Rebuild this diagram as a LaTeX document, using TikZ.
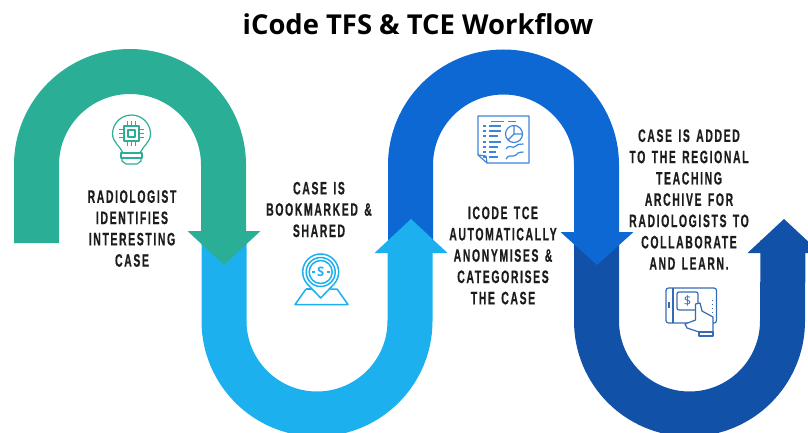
\documentclass[tikz,border=0pt]{standalone}
\usepackage{fontspec}
\setmainfont{Open Sans}
\newfontfamily\stepfont[FakeStretch=0.58,LetterSpace=9,FakeBold=0.5,WordSpace=1.4]{Liberation Sans Bold}
\definecolor{ribgreen}{HTML}{2BAE96}
\definecolor{riblight}{HTML}{1CB0EE}
\definecolor{ribblue}{HTML}{0D68D3}
\definecolor{ribdark}{HTML}{1151A8}
\definecolor{steptext}{HTML}{1C1C1C}
\tikzset{
	ribbon/.style={line width=45pt},
	stepnote/.style={align=center, text=steptext, inner sep=0pt, font=\stepfont\fontsize{18}{21.3}\selectfont},
	icon/.style={line width=1.2pt, line join=round}
}
\begin{document}
\begin{tikzpicture}[x=1pt, y=-1pt]
	\clip (0,0) rectangle (808,432);

	\node[font=\bfseries\fontsize{27.4}{30}\selectfont, inner sep=0pt] (title) at (418,24) {iCode TFS \& TCE Workflow};

	% ribbons, last one first so each head lies on the next ribbon
	\draw[ribbon, ribdark] (596.5,240) -- (596.5,321) arc[start angle=180, end angle=0, radius=93] -- (783,240);
	\draw[ribbon, ribblue] (410.5,240) -- (410.5,165) arc[start angle=180, end angle=360, radius=93] -- (596.5,232);
	\draw[ribbon, riblight] (224,232) -- (224,321) arc[start angle=180, end angle=0, radius=93] -- (410,253);
	\draw[ribbon, ribgreen] (36.5,243) -- (36.5,165) arc[start angle=180, end angle=360, radius=93.5] -- (223.5,231);

	\foreach \x/\w/\t/\c in {224/231/265/ribgreen, 411/253/219/riblight, 597/232/265/ribblue, 784/253/219/ribdark}
		\fill[\c] (\x-36.5,\w) -- (\x+36.5,\w) -- (\x,\t) -- cycle;

	\node[stepnote] (identify) at (132,228.5) {RADIOLOGIST\\IDENTIFIES\\INTERESTING\\CASE};
	\node[stepnote] (share) at (319,209.5) {CASE IS\\BOOKMARKED \&\\SHARED};
	\node[stepnote] (anonymise) at (503,255.5) {ICODE TCE\\AUTOMATICALLY\\ANONYMISES \&\\CATEGORISES\\THE CASE};
	\node[stepnote] (archive) at (689,199.5) {CASE IS ADDED\\TO THE REGIONAL\\TEACHING\\ARCHIVE FOR\\RADIOLOGISTS TO\\COLLABORATE\\AND LEARN.};

	% bulb
	\begin{scope}[icon, draw=ribgreen]
		\draw (123,153) .. controls (120,146) and (112.5,142) .. (112.5,134) arc[start angle=180, end angle=360, radius=19] .. controls (150.5,142) and (143,146) .. (140,153) -- cycle;
		\draw (121,153) rectangle (142,158);
		\draw (122,158) -- (122,161) -- (126,164) -- (137,164) -- (141,161) -- (141,158);
		\draw (124,126) rectangle (139,141);
		\draw (128,130) rectangle (135,137);
		\foreach \i in {-4,0,4} {
			\draw (131.5+\i,126) -- (131.5+\i,121);
			\draw (131.5+\i,141) -- (131.5+\i,146);
			\draw (124,133.5+\i) -- (119,133.5+\i);
			\draw (139,133.5+\i) -- (144,133.5+\i);
		}
	\end{scope}

	% pin on a map
	\begin{scope}[icon, draw=riblight, line width=1.5pt]
		\draw (306,289) -- (295,304.5) -- (348,304.5) -- (337,289) -- (330,289);
		\draw (306,289) -- (312,289);
		\draw[fill=white] (320.7,298) -- (307.3,284) arc[start angle=138, end angle=402, radius=18] -- cycle;
		\draw (320.7,272) circle[radius=11.5];
		\draw (320.7,272) circle[radius=14.5];
		\draw (312,272) -- (314.5,272) (327,272) -- (329.5,272);
		\node[text=riblight, inner sep=0pt, font=\bfseries\fontsize{13}{13}\selectfont] (coin) at (320.7,272) {S};
	\end{scope}

	% report sheet
	\begin{scope}[icon, draw=ribblue!80!white]
		\draw (478,116) -- (529,116) -- (529,163) -- (487,163) -- (478,155) -- cycle;
		\draw (478,155) -- (486,156) -- (487,163);
		\draw (491,121.5) -- (504,121.5) (508,121.5) -- (516,121.5);
		\foreach \y/\l in {126/501, 131/501, 136/498, 142/501, 147/498, 152/496, 157/498} {
			\draw (483,\y) -- (486,\y);
			\draw (489,\y) -- (\l,\y);
		}
		\draw (514,134) circle[radius=8.5];
		\draw (514,125.5) -- (514,134) -- (522.5,134) (514,134) -- (508,140);
		\draw (506,149) .. controls (510,143) and (512,150) .. (516,146) .. controls (519,143) and (521,145) .. (523.5,144);
		\draw (506,159) .. controls (510,153) and (512,158) .. (516,155) .. controls (519,151) and (521,153) .. (523.5,152);
	\end{scope}

	% tablet and hand
	\begin{scope}[icon, draw=ribdark!85!white]
		\draw[rounded corners=2.5pt] (666,288) rectangle (716.5,323);
		\draw (673,288) -- (673,323);
		\draw (669,302) -- (669,308);
		\draw[rounded corners=2pt] (677,292) rectangle (698,310);
		\node[text=ribdark!85!white, inner sep=0pt, font=\fontsize{13}{13}\selectfont] (price) at (687.5,301) {\$};
		\foreach \y in {300,304,308,312}
			\draw[line width=0.8pt] (712,\y) -- (712.8,\y);
		\draw[fill=white] (695.5,304) -- (695.5,320) -- (685,324) -- (687,328) -- (699,332) -- (713,332) -- (713,317) -- (702,311) -- (700,303) -- cycle;
		\draw (699,332) rectangle (713,336);
	\end{scope}
\end{tikzpicture}
\end{document}
